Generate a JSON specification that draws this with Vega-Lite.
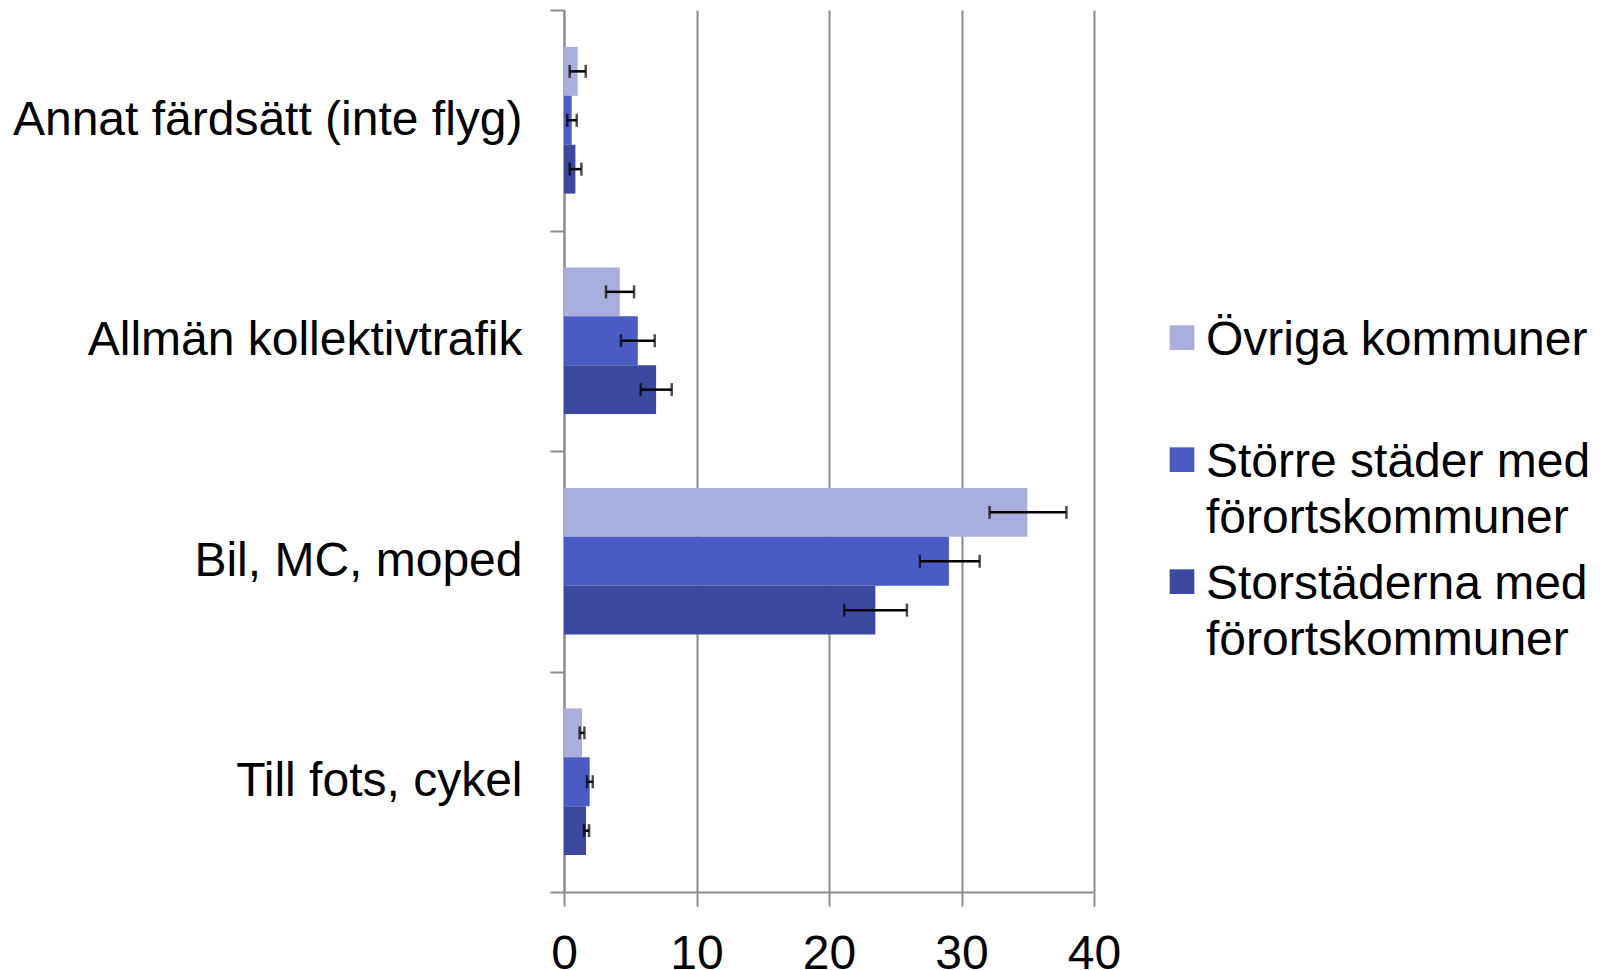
{
  "$schema": "https://vega.github.io/schema/vega-lite/v6.json",
  "width": 530,
  "height": 882,
  "autosize": {"type": "none"},
  "padding": {"left": 564, "top": 10, "right": 506, "bottom": 78},
  "background": "white",
  "config": {
    "view": {"stroke": null},
    "font": "Liberation Sans",
    "axisX": {
      "domainColor": "#8c8c8c", "domainWidth": 2,
      "tickColor": "#8c8c8c", "tickWidth": 2, "tickSize": 14,
      "gridColor": "#8c8c8c", "gridWidth": 2,
      "labelFont": "Liberation Sans", "labelFontSize": 48, "labelColor": "black", "labelPadding": 24,
      "labelFlush": false
    },
    "axisY": {
      "domainColor": "#8c8c8c", "domainWidth": 2,
      "tickColor": "#8c8c8c", "tickWidth": 2, "tickSize": 14,
      "labelFont": "Liberation Sans", "labelFontSize": 48, "labelColor": "black", "labelPadding": 28,
      "labelLimit": 0
    }
  },
  "data": {
    "values": [
      {"mode": "Annat färdsätt (inte flyg)", "group": "Övriga kommuner", "value": 1.03, "lo": 0.43, "hi": 1.64},
      {"mode": "Annat färdsätt (inte flyg)", "group": "Större städer med förortskommuner", "value": 0.58, "lo": 0.25, "hi": 0.96},
      {"mode": "Annat färdsätt (inte flyg)", "group": "Storstäderna med förortskommuner", "value": 0.86, "lo": 0.43, "hi": 1.31},
      {"mode": "Allmän kollektivtrafik", "group": "Övriga kommuner", "value": 4.21, "lo": 3.17, "hi": 5.29},
      {"mode": "Allmän kollektivtrafik", "group": "Större städer med förortskommuner", "value": 5.57, "lo": 4.3, "hi": 6.85},
      {"mode": "Allmän kollektivtrafik", "group": "Storstäderna med förortskommuner", "value": 6.95, "lo": 5.79, "hi": 8.13},
      {"mode": "Bil, MC, moped", "group": "Övriga kommuner", "value": 34.97, "lo": 32.12, "hi": 37.92},
      {"mode": "Bil, MC, moped", "group": "Större städer med förortskommuner", "value": 29.05, "lo": 26.86, "hi": 31.37},
      {"mode": "Bil, MC, moped", "group": "Storstäderna med förortskommuner", "value": 23.5, "lo": 21.15, "hi": 25.88},
      {"mode": "Till fots, cykel", "group": "Övriga kommuner", "value": 1.36, "lo": 1.18, "hi": 1.54},
      {"mode": "Till fots, cykel", "group": "Större städer med förortskommuner", "value": 1.94, "lo": 1.74, "hi": 2.17},
      {"mode": "Till fots, cykel", "group": "Storstäderna med förortskommuner", "value": 1.66, "lo": 1.51, "hi": 1.89}
    ]
  },
  "encoding": {
    "y": {
      "field": "mode", "type": "nominal",
      "sort": ["Annat färdsätt (inte flyg)", "Allmän kollektivtrafik", "Bil, MC, moped", "Till fots, cykel"],
      "scale": {"paddingInner": 0, "paddingOuter": 0},
      "axis": {"title": null, "tickBand": "extent", "grid": false}
    },
    "yOffset": {
      "field": "group", "type": "nominal",
      "sort": ["Övriga kommuner", "Större städer med förortskommuner", "Storstäderna med förortskommuner"],
      "scale": {"paddingInner": 0, "paddingOuter": 0.755}
    }
  },
  "layer": [
    {
      "mark": {"type": "bar"},
      "encoding": {
        "x": {
          "field": "value", "type": "quantitative",
          "scale": {"domain": [0, 40], "nice": false},
          "axis": {"title": null, "values": [0, 10, 20, 30, 40], "grid": true}
        },
        "color": {
          "field": "group", "type": "nominal",
          "scale": {
            "domain": ["Övriga kommuner", "Större städer med förortskommuner", "Storstäderna med förortskommuner"],
            "range": ["#A9AEDC", "#4A5BC3", "#3C499E"]
          },
          "legend": {
            "orient": "none", "legendX": 594, "legendY": 307,
            "title": null, "padding": 0,
            "labelFont": "Liberation Sans", "labelFontSize": 48, "labelColor": "black",
            "labelLimit": 0, "labelBaseline": "middle", "labelOffset": 0,
            "symbolType": "M-1,-1.27L1,-1.27L1,0.73L-1,0.73Z", "symbolSize": 610, "symbolStrokeWidth": 0, "symbolOpacity": 1,
            "rowPadding": 18,
            "encode": {"labels": {"update": {"lineHeight": {"value": 56}}}},
            "labelExpr": "datum.value == 'Övriga kommuner' ? ['Övriga kommuner', ''] : datum.value == 'Större städer med förortskommuner' ? ['Större städer med', 'förortskommuner'] : ['Storstäderna med', 'förortskommuner']"
          }
        }
      }
    },
    {
      "mark": {"type": "rule", "color": "black", "strokeWidth": 2.5},
      "encoding": {
        "x": {"field": "lo", "type": "quantitative", "title": null},
        "x2": {"field": "hi"}
      }
    },
    {
      "mark": {"type": "tick", "color": "black", "thickness": 2.5, "size": 13, "orient": "vertical"},
      "encoding": {"x": {"field": "lo", "type": "quantitative", "title": null}}
    },
    {
      "mark": {"type": "tick", "color": "black", "thickness": 2.5, "size": 13, "orient": "vertical"},
      "encoding": {"x": {"field": "hi", "type": "quantitative", "title": null}}
    }
  ]
}
